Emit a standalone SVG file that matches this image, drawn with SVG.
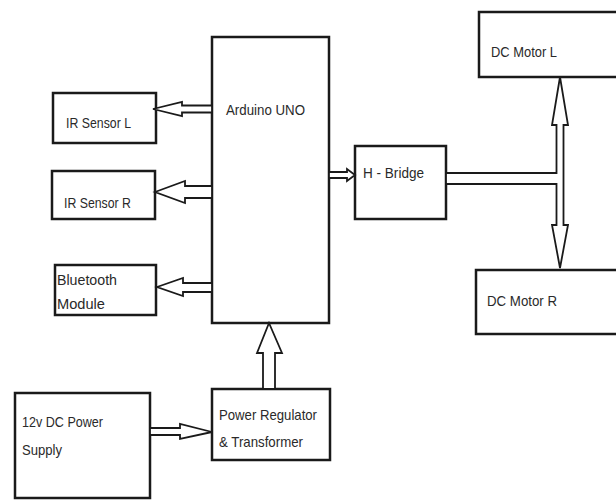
<svg xmlns="http://www.w3.org/2000/svg" width="616" height="500" viewBox="0 0 616 500">
<style>
.box{fill:#fff;stroke:#1a1a1a;stroke-width:2.5}
.arr{fill:#fff;stroke:#1a1a1a;stroke-width:1.8;stroke-linejoin:miter}
text{font-family:"Liberation Sans",Arial,sans-serif;font-size:15px;fill:#2a2a2a}
</style>
<rect width="616" height="500" fill="#fff"/>
<g id="arduino"><rect class="box" x="212" y="37" width="117" height="286"/><text x="226" y="115" textLength="79" lengthAdjust="spacingAndGlyphs">Arduino UNO</text></g>
<g id="ir-left"><rect class="box" x="53" y="93" width="103" height="50"/><text x="66" y="128" textLength="65" lengthAdjust="spacingAndGlyphs">IR Sensor L</text></g>
<g id="ir-right"><rect class="box" x="52" y="171" width="103" height="48"/><text x="64" y="208" textLength="67" lengthAdjust="spacingAndGlyphs">IR Sensor R</text></g>
<g id="bluetooth"><rect class="box" x="55" y="265" width="101" height="50"/><text x="57" y="285" textLength="60" lengthAdjust="spacingAndGlyphs">Bluetooth</text><text x="57" y="309" textLength="48" lengthAdjust="spacingAndGlyphs">Module</text></g>
<g id="hbridge"><rect class="box" x="355" y="146" width="91" height="73"/><text x="363" y="178" textLength="61" lengthAdjust="spacingAndGlyphs">H - Bridge</text></g>
<g id="motor-left"><rect class="box" x="479" y="12" width="150" height="65"/><text x="491" y="57" textLength="66" lengthAdjust="spacingAndGlyphs">DC Motor L</text></g>
<g id="motor-right"><rect class="box" x="476" y="270" width="150" height="64"/><text x="487" y="306" textLength="70" lengthAdjust="spacingAndGlyphs">DC Motor R</text></g>
<g id="power-supply"><rect class="box" x="15" y="393" width="135" height="105"/><text x="22" y="427" textLength="81" lengthAdjust="spacingAndGlyphs">12v DC Power</text><text x="22" y="455" textLength="40" lengthAdjust="spacingAndGlyphs">Supply</text></g>
<g id="regulator"><rect class="box" x="212" y="389" width="118" height="71"/><text x="219" y="420" textLength="98" lengthAdjust="spacingAndGlyphs">Power Regulator</text><text x="219" y="447" textLength="84" lengthAdjust="spacingAndGlyphs">&amp; Transformer</text></g>
<g id="connectors">
<polygon class="arr" points="153,109 182,102 182,105.5 212,105.5 212,112.5 182,112.5 182,116"/>
<polygon class="arr" points="155,192 185,181 185,186 212,186 212,198 185,198 185,203"/>
<polygon class="arr" points="157,287 183,278 183,283 212,283 212,292 183,292 183,296"/>
<polygon class="arr" points="329,172 347,172 347,169 355,175 347,181 347,178 329,178"/>
<polygon class="arr" points="150,428 180,428 180,424 212,432 180,439 180,435 150,435"/>
<polygon class="arr" points="263,389 263,353 257,353 269,323 282,353 275,353 275,389"/>
<polygon class="arr" points="560,77 568,125 563.5,125 563.5,225 568,225 560,268 552,225 556.5,225 556.5,184 446,184 446,173 556.5,173 556.5,125 552,125"/>
</g>
</svg>
